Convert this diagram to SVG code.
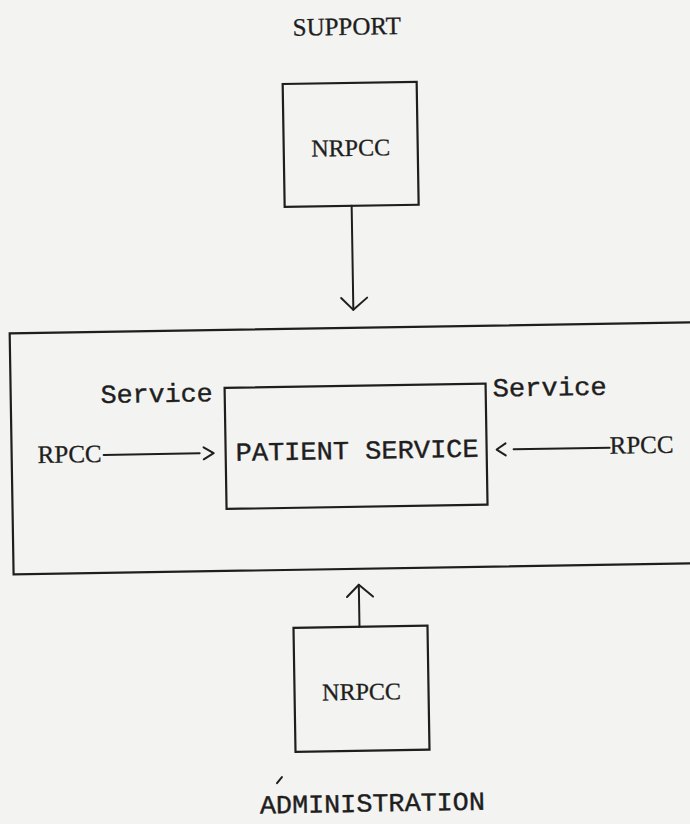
<svg xmlns="http://www.w3.org/2000/svg" width="690" height="824" viewBox="0 0 690 824">
  <style>
    .box { fill: none; stroke: #1e1e1e; stroke-width: 2.2; }
    .line { fill: none; stroke: #1e1e1e; stroke-width: 2; stroke-linecap: round; stroke-linejoin: round; }
    .serif { font-family: "Liberation Serif", "Times New Roman", serif; fill: #1e1e1e; stroke: #1e1e1e; stroke-width: 0.3; text-anchor: middle; }
    .mono { font-family: "Liberation Mono", "Courier New", monospace; fill: #1e1e1e; stroke: #1e1e1e; stroke-width: 0.4; }
  </style>
  <rect x="0" y="0" width="690" height="824" fill="#f3f3f1"/>
  <g transform="rotate(-0.93 345 412)">
    <text class="serif" x="353" y="35" font-size="25">SUPPORT</text>

    <g id="nrpcc-support">
      <rect class="box" x="288" y="83" width="134" height="123"/>
      <text class="serif" x="355" y="156" font-size="24">NRPCC</text>
    </g>

    <g id="context">
      <rect class="box" x="11" y="328" width="720" height="241"/>
    </g>

    <g id="patient-service">
      <rect class="box" x="225" y="386" width="261" height="121"/>
      <text class="mono" x="235" y="459" font-size="26" textLength="243" lengthAdjust="spacingAndGlyphs">PATIENT SERVICE</text>
    </g>

    <g id="labels">
      <text class="mono" x="101" y="399" font-size="26" textLength="112" lengthAdjust="spacingAndGlyphs">Service</text>
      <text class="mono" x="493" y="399" font-size="26" textLength="114" lengthAdjust="spacingAndGlyphs">Service</text>
    </g>

    <g id="rpcc-left">
      <text class="serif" x="69" y="458" font-size="25">RPCC</text>
    </g>
    <g id="rpcc-right">
      <text class="serif" x="641" y="458" font-size="25">RPCC</text>
    </g>

    <g id="nrpcc-admin">
      <rect class="box" x="290" y="627" width="134" height="124"/>
      <text class="serif" x="357" y="700" font-size="24">NRPCC</text>
    </g>
    <text class="mono" x="366" y="812" font-size="26" text-anchor="middle" textLength="225" lengthAdjust="spacingAndGlyphs">ADMINISTRATION</text>

    <g id="connectors">
      <path class="line" d="M355,206 V310"/>
      <path class="line" d="M343,298 L355,310 L369,298"/>
      <path class="line" d="M356,627 V585"/>
      <path class="line" d="M344,597 L356,585 L370,597"/>
      <path class="line" d="M103,451 H199"/>
      <path class="line" d="M203,445 L213,451 L203,457"/>
      <path class="line" d="M513,452 H609"/>
      <path class="line" d="M505,446 L496,452 L505,458"/>
    </g>

    <path class="line" d="M271,782 L276,776" stroke-width="1.5"/>
  </g>
</svg>
